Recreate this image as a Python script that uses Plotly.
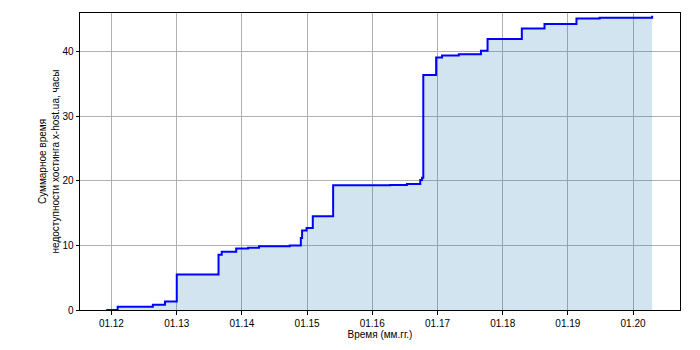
import plotly.graph_objects as go

# Event dates and cumulative downtime (hours)
dates = [
    "2011-12-03", "2012-02-05", "2012-08-20", "2012-10-27", "2013-01-01",
    "2013-08-23", "2013-09-10", "2013-11-30", "2014-02-05", "2014-04-07",
    "2014-09-26", "2014-11-27", "2014-12-04", "2014-12-29", "2015-02-02",
    "2015-05-27", "2016-04-11", "2016-07-13", "2016-09-26", "2016-10-06",
    "2016-10-13", "2016-12-24", "2017-01-26", "2017-04-30", "2017-09-01",
    "2017-10-08", "2018-04-18", "2018-08-23", "2019-02-18", "2019-06-28",
    "2020-04-17",
]
cum_hours = [
    0.0, 0.5, 0.8, 1.3, 5.5,
    8.55, 9.0, 9.5, 9.63, 9.85,
    9.97, 11.15, 12.28, 12.7, 14.5,
    19.28, 19.35, 19.5, 20.1, 20.45,
    36.35, 39.05, 39.35, 39.55, 40.1,
    41.9, 43.55, 44.25, 45.1, 45.2,
    45.5,
]

tick_dates = ["2012-01-01", "2013-01-01", "2014-01-01", "2015-01-01", "2016-01-01",
              "2017-01-01", "2018-01-01", "2019-01-01", "2020-01-01"]
tick_labels = ["01.12", "01.13", "01.14", "01.15", "01.16",
               "01.17", "01.18", "01.19", "01.20"]
y_ticks = [0, 10, 20, 30, 40]

font_family = "Liberation Sans, Arial, sans-serif"

fig = go.Figure()
fig.add_trace(go.Scatter(
    x=dates, y=cum_hours, mode="lines",
    line=dict(shape="hv", width=0),
    fill="tozeroy", fillcolor="rgba(31,119,180,0.2)",
    hoverinfo="skip", showlegend=False,
))
fig.add_trace(go.Scatter(
    x=dates, y=cum_hours, mode="lines",
    line=dict(shape="hv", color="#0000ff", width=2),
    showlegend=False,
))

axis_common = dict(
    showline=True, linecolor="#000000", linewidth=1, mirror=True,
    showgrid=True, gridcolor="#b0b0b0", gridwidth=0.8,
    ticks="outside", ticklen=3.5, tickwidth=0.8, tickcolor="#000000",
    tickfont=dict(family=font_family, size=10, color="#000000"),
    zeroline=False,
)

fig.update_xaxes(
    type="date",
    range=["2011-07-09", "2020-09-20"],
    tickmode="array", tickvals=tick_dates, ticktext=tick_labels,
    title=dict(text="Время (мм.гг.)", font=dict(family=font_family, size=10, color="#000000"),
               standoff=2),
    **axis_common,
)
fig.update_yaxes(
    range=[0, 45.94],
    tickmode="array", tickvals=y_ticks,
    title=dict(text="Суммарное время<br>недоступности хостинга x-host.ua, часы",
               font=dict(family=font_family, size=10, color="#000000"),
               standoff=0),
    **axis_common,
)

fig.update_layout(
    width=700, height=350,
    margin=dict(l=80, r=20, t=13, b=40, autoexpand=False),
    paper_bgcolor="white", plot_bgcolor="white",
    font=dict(family=font_family, size=10, color="#000000"),
)
fig.update_xaxes(automargin=False)
fig.update_yaxes(automargin=False)

fig.write_html("out.html")
